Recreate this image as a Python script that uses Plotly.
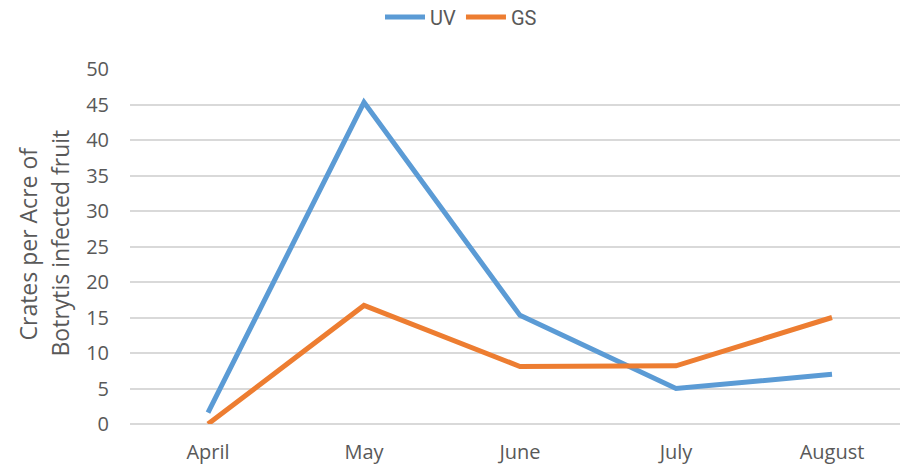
import plotly.graph_objects as go

months = ["April", "May", "June", "July", "August"]
uv_values = [1.6, 45.3, 15.3, 5.0, 7.0]
gs_values = [0.0, 16.7, 8.1, 8.2, 15.0]
y_ticks = [0, 5, 10, 15, 20, 25, 30, 35, 40, 45, 50]
y_title_lines = ["Crates per Acre of", "Botrytis infected fruit"]

W, H = 900, 472
L, R, T, B = 130, 0, 69, 48
plot_w = W - L - R
plot_h = H - T - B

TICK_FONT = dict(family="Open Sans, Noto Sans, sans-serif", size=20, color="#595959")

fig = go.Figure()
fig.add_trace(go.Scatter(x=months, y=uv_values, mode="lines", name="UV",
                         line=dict(color="#5B9BD5", width=5, shape="linear")))
fig.add_trace(go.Scatter(x=months, y=gs_values, mode="lines", name="GS",
                         line=dict(color="#ED7D31", width=5, shape="linear")))

# category spacing 156px -> visible range clipped at right edge
span = plot_w / 156.0
fig.update_xaxes(range=[-0.5, -0.5 + span], showgrid=False, zeroline=False,
                 showline=False, ticks="", tickfont=TICK_FONT, ticklabelstandoff=14,
                 automargin=False)
fig.update_yaxes(range=[0, 50], tickvals=y_ticks, showgrid=True, gridcolor="#D9D9D9",
                 gridwidth=1.5, zeroline=True, zerolinecolor="#D9D9D9", zerolinewidth=1.5,
                 showline=False, ticks="", tickfont=TICK_FONT, ticklabelstandoff=20,
                 automargin=False)

title_x_px = [27, 59]
for txt, px in zip(y_title_lines, title_x_px):
    fig.add_annotation(text=txt, xref="paper", yref="paper",
                       x=(px - L) / plot_w, y=0.5 + 3 / plot_h, xanchor="center", yanchor="middle",
                       textangle=-90, showarrow=False,
                       font=dict(family="Open Sans, Noto Sans, sans-serif", size=23, color="#595959"))

fig.update_layout(
    width=W, height=H,
    margin=dict(l=L, r=R, t=T, b=B, autoexpand=False),
    plot_bgcolor="white", paper_bgcolor="white",
    showlegend=True,
    legend=dict(orientation="h", xref="container", yref="container",
                x=461 / W, y=1 - 17 / H, xanchor="center", yanchor="middle",
                font=dict(family="Liberation Sans Narrow, Roboto, sans-serif", size=20, color="#595959"),
                itemwidth=40, tracegroupgap=0, bgcolor="rgba(0,0,0,0)"),
)

fig.write_html("out.html", config={"displayModeBar": False},
               post_script="document.body.style.margin='0';document.body.style.overflow='hidden';")
